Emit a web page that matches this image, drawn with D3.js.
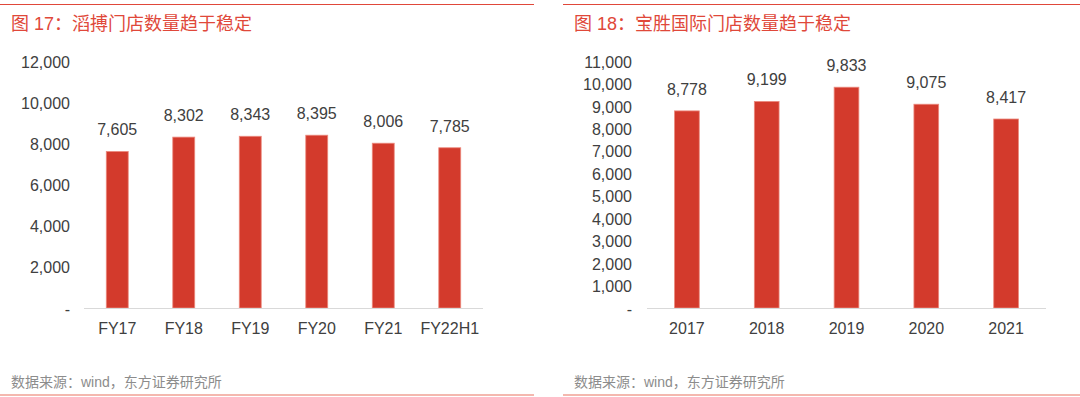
<!DOCTYPE html>
<html>
<head>
<meta charset="utf-8">
<script src="https://cdn.jsdelivr.net/npm/d3@7/dist/d3.min.js"></script>
<style>
  body { margin: 0; background: #fff; }
  svg { display: block; font-family: "Liberation Sans", Arial, "Noto Sans CJK SC", sans-serif; }
</style>
</head>
<body>
<svg id="chart" width="1080" height="397"></svg>
<script>
//Left chart data (滔搏)
var leftCategories = ["FY17", "FY18", "FY19", "FY20", "FY21", "FY22H1"];
var leftValues = [7605, 8302, 8343, 8395, 8006, 7785];
var leftTicks = [0, 2000, 4000, 6000, 8000, 10000, 12000];

//Right chart data (宝胜国际)
var rightCategories = ["2017", "2018", "2019", "2020", "2021"];
var rightValues = [8778, 9199, 9833, 9075, 8417];
var rightTicks = [0, 1000, 2000, 3000, 4000, 5000, 6000, 7000, 8000, 9000, 10000, 11000];

var titleColor = "#e0483a";
var barColor = "#d33a2c";
var textColor = "#404040";
var fmt = d3.format(",");

var svg = d3.select("svg#chart");

//Draws one panel: title, bars, labels, source line
function drawPanel(opt) {
  var g = svg.append("g");

  //top and bottom red rules
  g.append("line")
      .attr("x1", opt.lineX0).attr("x2", opt.lineX1)
      .attr("y1", 4.5).attr("y2", 4.5)
      .attr("stroke", titleColor).attr("stroke-width", 1.2);
  g.append("line")
      .attr("x1", opt.lineX0).attr("x2", opt.lineX1)
      .attr("y1", 395).attr("y2", 395)
      .attr("stroke", "#f0a095").attr("stroke-width", 1.5);

  g.append("text")
      .attr("x", opt.titleX).attr("y", 30)
      .attr("fill", titleColor)
      .style("font-size", "18px")
      .text(opt.title);

  g.append("text")
      .attr("x", opt.titleX).attr("y", 387)
      .attr("fill", "#8c8c8c")
      .style("font-size", "14px")
      .text("数据来源：wind，东方证券研究所");

  var x = d3.scaleBand()
    .domain(opt.categories)
    .range([opt.x0, opt.x1])
    .paddingInner(opt.pad)
    .paddingOuter(opt.pad / 2);

  var y = d3.scaleLinear()
    .domain([0, d3.max(opt.ticks)])
    .range([308, 61]);

  //y axis labels (no axis line)
  g.selectAll(".ytick")
    .data(opt.ticks)
    .enter().append("text")
      .attr("class", "ytick")
      .attr("x", opt.labelX)
      .attr("y", function (d) { return y(d) + 1; })
      .attr("dy", "0.35em")
      .attr("text-anchor", "end")
      .attr("fill", textColor)
      .style("font-size", "16px")
      .text(function (d) { return d === 0 ? "-" : fmt(d); });

  //bars
  g.selectAll(".bar")
    .data(opt.values)
    .enter().append("rect")
      .attr("class", "bar")
      .attr("x", function (d, i) { return x(opt.categories[i]); })
      .attr("y", function (d) { return y(d); })
      .attr("width", x.bandwidth())
      .attr("height", function (d) { return y(0) - y(d); })
      .attr("fill", barColor)
      .attr("stroke", "#ec8a7e")
      .attr("stroke-width", 0.8);

  //baseline
  g.append("line")
      .attr("x1", opt.x0).attr("x2", opt.x1)
      .attr("y1", y(0) + 0.5).attr("y2", y(0) + 0.5)
      .attr("stroke", "#d9d9d9").attr("stroke-width", 1);

  //value labels
  g.selectAll(".val")
    .data(opt.values)
    .enter().append("text")
      .attr("class", "val")
      .attr("x", function (d, i) { return x(opt.categories[i]) + x.bandwidth() / 2; })
      .attr("y", function (d) { return y(d) - 16; })
      .attr("text-anchor", "middle")
      .attr("fill", textColor)
      .style("font-size", "16px")
      .text(function (d) { return fmt(d); });

  //category labels
  g.selectAll(".cat")
    .data(opt.categories)
    .enter().append("text")
      .attr("class", "cat")
      .attr("x", function (d) { return x(d) + x.bandwidth() / 2; })
      .attr("y", 334)
      .attr("text-anchor", "middle")
      .attr("fill", textColor)
      .style("font-size", "16px")
      .text(function (d) { return d; });
}

drawPanel({
  title: "图 17：滔搏门店数量趋于稳定",
  categories: leftCategories,
  values: leftValues,
  ticks: leftTicks,
  lineX0: 0, lineX1: 534,
  titleX: 11,
  labelX: 70,
  x0: 84, x1: 483,
  pad: 0.67
});

drawPanel({
  title: "图 18：宝胜国际门店数量趋于稳定",
  categories: rightCategories,
  values: rightValues,
  ticks: rightTicks,
  lineX0: 563, lineX1: 1080,
  titleX: 574,
  labelX: 632,
  x0: 647, x1: 1046,
  pad: 0.69
});
</script>
</body>
</html>
